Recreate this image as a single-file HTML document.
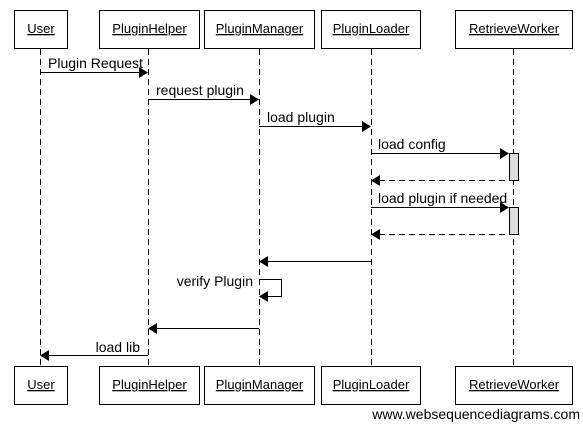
<!DOCTYPE html>
<html><head><style>body{margin:0;background:#fff}svg{display:block}text{font-family:"Liberation Sans",sans-serif;font-size:14px;fill:#000}.b{font-size:13px}</style></head><body>
<svg width="583" height="424" viewBox="0 0 583 424">
<g stroke="#000" stroke-dasharray="6,4" stroke-width="1">
<line x1="40.5" y1="49" x2="40.5" y2="366"/>
<line x1="148.5" y1="49" x2="148.5" y2="366"/>
<line x1="259.5" y1="49" x2="259.5" y2="366"/>
<line x1="371.5" y1="49" x2="371.5" y2="366"/>
<line x1="513.5" y1="49" x2="513.5" y2="366"/>
</g>
<g fill="#fff" stroke="#000">
<rect x="14.5" y="10.5" width="53" height="38"/><rect x="99.5" y="10.5" width="100" height="38"/><rect x="204.5" y="10.5" width="110" height="38"/><rect x="321.5" y="10.5" width="99" height="38"/><rect x="455.5" y="10.5" width="117" height="38"/>
<rect x="14.5" y="366.5" width="53" height="38"/><rect x="99.5" y="366.5" width="100" height="38"/><rect x="204.5" y="366.5" width="110" height="38"/><rect x="321.5" y="366.5" width="99" height="38"/><rect x="455.5" y="366.5" width="117" height="38"/>
</g>
<g text-anchor="middle" text-decoration="underline" class="b">
<text class="b" x="41" y="33">User</text><text class="b" x="149.5" y="33">PluginHelper</text><text class="b" x="259.5" y="33">PluginManager</text><text class="b" x="371" y="33">PluginLoader</text><text class="b" x="514" y="33">RetrieveWorker</text>
<text class="b" x="41" y="389">User</text><text class="b" x="149.5" y="389">PluginHelper</text><text class="b" x="259.5" y="389">PluginManager</text><text class="b" x="371" y="389">PluginLoader</text><text class="b" x="514" y="389">RetrieveWorker</text>
</g>
<g fill="#ddd" stroke="#000"><rect x="509.5" y="153.5" width="9" height="27"/><rect x="509.5" y="207.5" width="9" height="27"/></g>
<g stroke="#000" fill="none">
<line x1="40" y1="72.5" x2="140" y2="72.5"/>
<line x1="148" y1="99.5" x2="251" y2="99.5"/>
<line x1="259" y1="126.5" x2="363" y2="126.5"/>
<line x1="371" y1="153.5" x2="501" y2="153.5"/>
<line x1="371" y1="207.5" x2="501" y2="207.5"/>
<line x1="379" y1="180.5" x2="509" y2="180.5" stroke-dasharray="6,4"/>
<line x1="379" y1="234.5" x2="509" y2="234.5" stroke-dasharray="6,4"/>
<line x1="267" y1="261.5" x2="371" y2="261.5"/>
<polyline points="259,279.5 281.5,279.5 281.5,296.5 267,296.5"/>
<line x1="156" y1="328.5" x2="259" y2="328.5"/>
<line x1="48" y1="355.5" x2="148" y2="355.5"/>
</g>
<g fill="#000">
<polygon points="148,72.5 139,67 139,78"/>
<polygon points="259,99.5 250,94 250,105"/>
<polygon points="371,126.5 362,121 362,132"/>
<polygon points="509,153.5 500,148 500,159"/>
<polygon points="509,207.5 500,202 500,213"/>
<polygon points="371,180.5 380,175 380,186"/>
<polygon points="371,234.5 380,229 380,240"/>
<polygon points="259,261.5 268,256 268,267"/>
<polygon points="259,296.5 268,291 268,302"/>
<polygon points="148,328.5 157,323 157,334"/>
<polygon points="40,355.5 49,350 49,361"/>
</g>
<text x="48" y="68">Plugin Request</text>
<text x="156" y="95">request plugin</text>
<text x="267" y="122">load plugin</text>
<text x="378" y="149">load config</text>
<text x="378" y="203">load plugin if needed</text>
<text x="253" y="286" text-anchor="end">verify Plugin</text>
<text x="140" y="352" text-anchor="end">load lib</text>
<text x="580" y="419" text-anchor="end">www.websequencediagrams.com</text>
</svg>
</body></html>
